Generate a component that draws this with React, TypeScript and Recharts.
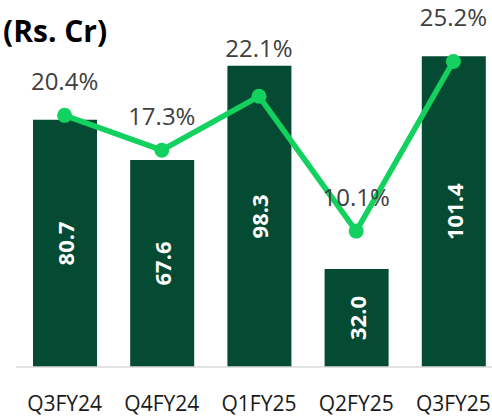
import { ComposedChart, Bar, Line, XAxis, YAxis, LabelList } from "recharts";

const quarters = ["Q3FY24", "Q4FY24", "Q1FY25", "Q2FY25", "Q3FY25"];
const revenue = [80.7, 67.6, 98.3, 32.0, 101.4];
const margin = [20.4, 17.3, 22.1, 10.1, 25.2];

// how far above each point its % label sits
const labelLift = [35, 35, 49, 35, 45];

const BAR = "#054a32";
const LINE = "#12d15e";
const FONT = "'Open Sans', 'DejaVu Sans', sans-serif";

const data = quarters.map((q, i) => ({ q, revenue: revenue[i], margin: margin[i] }));

function BarValue(props: any) {
  const { x, y, width, height, value } = props;
  const cx = x + width / 2;
  const cy = y + height / 2;
  return (
    <text
      x={cx}
      y={cy}
      transform={`rotate(-90, ${cx}, ${cy})`}
      textAnchor="middle"
      dominantBaseline="central"
      fill="#fff"
      fontSize={22}
      fontWeight={700}
      fontFamily={FONT}
    >
      {Number(value).toFixed(1)}
    </text>
  );
}

function PctValue(props: any) {
  const { x, y, value, index } = props;
  return (
    <text
      x={x}
      y={y - labelLift[index]}
      textAnchor="middle"
      dominantBaseline="central"
      fill="#404040"
      fontSize={24}
      fontFamily={FONT}
    >
      {Number(value).toFixed(1)}%
    </text>
  );
}

export default function App() {
  return (
    <div
      style={{
        position: "fixed",
        left: 0,
        top: 0,
        width: 492,
        height: 419,
        overflow: "hidden",
        background: "#fff",
      }}
    >
      <div
        style={{
          position: "absolute",
          left: 3,
          top: 13,
          fontFamily: FONT,
          fontWeight: 700,
          fontSize: 30,
          lineHeight: "36px",
          color: "#000",
        }}
      >
        (Rs. Cr)
      </div>
      <ComposedChart
        width={510}
        height={419}
        data={data}
        margin={{ top: 30, right: 8, bottom: 12, left: 16 }}
      >
        <XAxis
          dataKey="q"
          axisLine={{ stroke: "#d9d9d9", strokeWidth: 1.5 }}
          tickLine={false}
          tickMargin={23}
          height={40}
          interval={0}
          tick={{ fill: "#1a1a1a", fontSize: 21, fontFamily: FONT }}
        />
        <YAxis yAxisId="rev" hide domain={[0, 110]} />
        <YAxis yAxisId="pct" hide orientation="right" domain={[-2, 28]} />
        <Bar yAxisId="rev" dataKey="revenue" fill={BAR} barSize={64} isAnimationActive={false}>
          <LabelList dataKey="revenue" content={BarValue} />
        </Bar>
        <Line
          yAxisId="pct"
          dataKey="margin"
          stroke={LINE}
          strokeWidth={5.5}
          dot={{ r: 7.5, fill: LINE, stroke: "none" }}
          activeDot={false}
          isAnimationActive={false}
        >
          <LabelList dataKey="margin" content={PctValue} />
        </Line>
      </ComposedChart>
    </div>
  );
}
